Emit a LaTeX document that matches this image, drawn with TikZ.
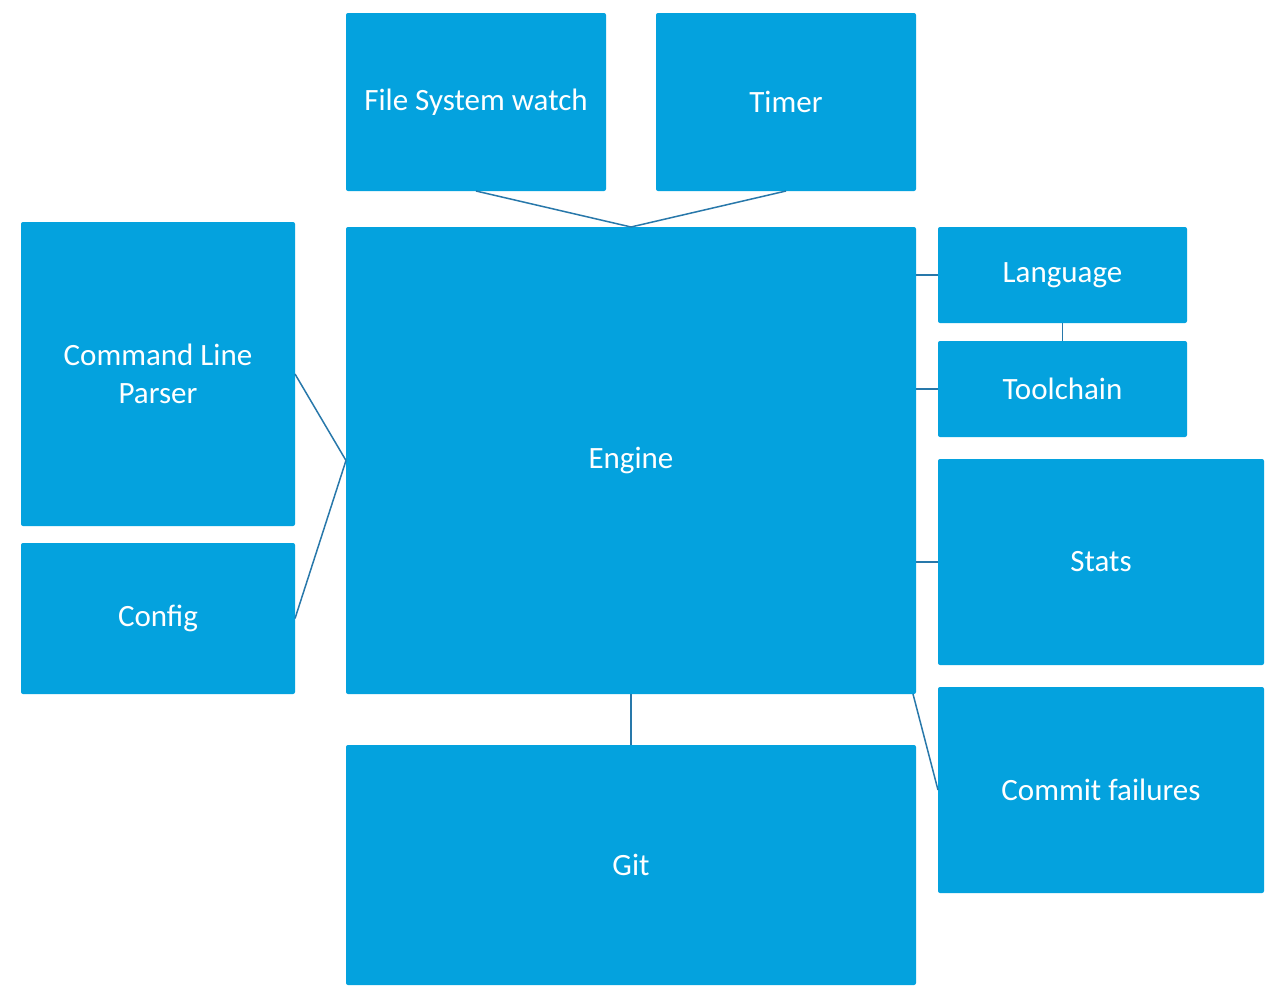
\documentclass[tikz,border=0pt]{standalone}
\usepackage{fontspec}
\setmainfont{Carlito}
\definecolor{boxblue}{RGB}{4,162,222}
\definecolor{linkblue}{RGB}{40,120,170}
\begin{document}
\begin{tikzpicture}[x=1pt,y=-1pt,
  box/.style={fill=boxblue, draw=none, rounded corners=2pt, inner sep=0pt, outer sep=0pt,
    text=white, font=\fontsize{31}{38}\selectfont, align=center},
  link/.style={draw=linkblue, line width=1.5pt}]
\useasboundingbox[fill=white] (0,0) rectangle (1280,996);
\node[box, minimum width=260pt, minimum height=178pt] (fsw) at (476,102) {File System watch};
\node[box, minimum width=260pt, minimum height=178pt] (timer) at (786,102) {Timer};
\node[box, minimum width=570pt, minimum height=467pt] (engine) at (631,460.5) {Engine};
\node[box, minimum width=274pt, minimum height=304pt] (clp) at (158,374) {Command Line\\Parser};
\node[box, minimum width=274pt, minimum height=151pt] (config) at (158,618.5) {Config};
\node[box, minimum width=249pt, minimum height=96pt] (lang) at (1062.5,275) {Language};
\node[box, minimum width=249pt, minimum height=96pt] (tool) at (1062.5,389) {Toolchain};
\node[box, minimum width=326pt, minimum height=206pt] (stats) at (1101,562) {Stats};
\node[box, minimum width=326pt, minimum height=206pt] (cf) at (1101,790) {Commit failures};
\node[box, minimum width=570pt, minimum height=240pt] (git) at (631,865) {Git};
\draw[link] (fsw.south) -- (engine.north);
\draw[link] (timer.south) -- (engine.north);
\draw[link] (clp.east) -- (engine.west);
\draw[link] (config.east) -- (engine.west);
\draw[link] (engine.east |- lang.west) -- (lang.west);
\draw[link] (engine.east |- tool.west) -- (tool.west);
\draw[link] (lang.south) -- (tool.north);
\draw[link] (engine.east |- stats.west) -- (stats.west);
\draw[link] ([xshift=-3pt]engine.south east) -- (cf.west);
\draw[link] (engine.south) -- (git.north);
\end{tikzpicture}
\end{document}
